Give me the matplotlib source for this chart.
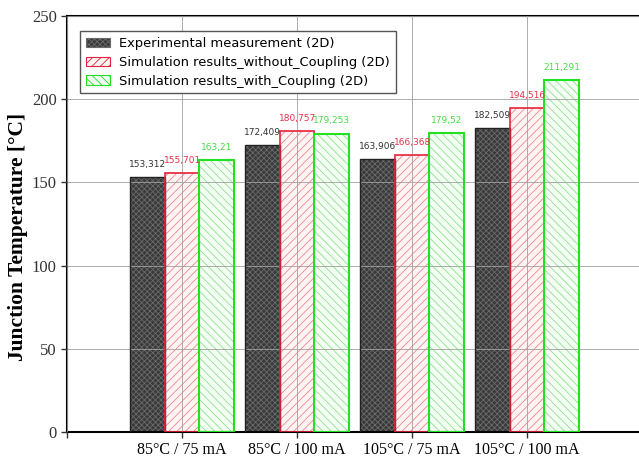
import numpy as np
import matplotlib
matplotlib.use('Agg')
import matplotlib.pyplot as plt
from matplotlib.patches import Patch

categories = ['85°C / 75 mA', '85°C / 100 mA', '105°C / 75 mA', '105°C / 100 mA']
experimental = [153.312, 172.409, 163.906, 182.509]
sim_without = [155.701, 180.757, 166.368, 194.516]
sim_with = [163.21, 179.253, 179.52, 211.291]
exp_labels = ['153,312', '172,409', '163,906', '182,509']
without_labels = ['155,701', '180,757', '166,368', '194,516']
with_labels = ['163,21', '179,253', '179,52', '211,291']

plt.rcParams['hatch.linewidth'] = 0.6

fig = plt.figure(figsize=(6.39, 4.59), dpi=100)
ax = fig.add_axes([0.105, 0.059, 0.9, 0.906])

x = np.arange(1, len(categories) + 1)
w = 0.3

# experimental - dark crosshatch
ax.bar(x - w, experimental, w, color='#3a3a3a', edgecolor='#6a6a6a', hatch='xxxxxx', linewidth=0, zorder=2)
ax.bar(x - w, experimental, w, fill=False, edgecolor='#222222', linewidth=1.0, zorder=3)

# simulation without coupling - red hatch
ax.bar(x, sim_without, w, color='#fff4f4', edgecolor='#f08890', hatch='////', linewidth=0, zorder=2)
ax.bar(x, sim_without, w, fill=False, edgecolor='#e8203a', linewidth=1.2, zorder=3)

# simulation with coupling - green hatch
ax.bar(x + w, sim_with, w, color='#f4fff4', edgecolor='#90e090', hatch='\\\\\\\\', linewidth=0, zorder=2)
ax.bar(x + w, sim_with, w, fill=False, edgecolor='#22e022', linewidth=1.5, zorder=3)

for xs, vals, labs, col in [(x - w, experimental, exp_labels, '#333333'),
                            (x, sim_without, without_labels, '#e8304a'),
                            (x + w, sim_with, with_labels, '#44dd44')]:
    for xi, v, lab in zip(xs, vals, labs):
        ax.annotate(lab, (xi, v), xytext=(0, 6), textcoords='offset points',
                    ha='center', va='bottom', fontsize=6.5, color=col,
                    family='DejaVu Sans')

ax.set_xlim(0, 5)
ax.set_ylim(0, 250)
ax.set_xticks([0, 1, 2, 3, 4])
ax.set_xticklabels([''] + categories, family='Liberation Serif', fontsize=11.5)
ax.set_yticks([0, 50, 100, 150, 200, 250])
ax.set_yticklabels(['0', '50', '100', '150', '200', '250'], family='Liberation Serif',
                   fontsize=12, color='#333333')
ax.tick_params(direction='out', length=4, width=1, colors='#333333')
ax.tick_params(axis='x', labelcolor='black')
ax.set_ylabel('Junction Temperature [°C]', family='Liberation Serif', fontsize=15.5,
              fontweight='bold', va='center')
ax.yaxis.set_label_coords(-0.085, 0.47)

ax.grid(True, color='#a0a0a0', linewidth=0.6, zorder=4)
ax.set_axisbelow(False)
for s in ['left', 'bottom', 'top']:
    ax.spines[s].set_linewidth(1.5)
    ax.spines[s].set_color('black')
ax.spines['right'].set_visible(False)

handles = [
    Patch(facecolor='#3a3a3a', edgecolor='#6a6a6a', hatch='xxxxxx', linewidth=0.8),
    Patch(facecolor='#fff4f4', edgecolor='#e8203a', hatch='////', linewidth=0.8),
    Patch(facecolor='#f4fff4', edgecolor='#22e022', hatch='\\\\\\\\', linewidth=0.8),
]
labels = ['Experimental measurement (2D)',
          'Simulation results_without_Coupling (2D)',
          'Simulation results_with_Coupling (2D)']
leg = ax.legend(handles, labels, loc='upper left', bbox_to_anchor=(0.0226, 0.964),
                borderaxespad=0,
                prop={'family': 'DejaVu Sans', 'size': 9.35}, fancybox=False,
                edgecolor='#555555', framealpha=1, borderpad=0.45,
                labelspacing=0.45, handlelength=1.85, handleheight=0.7, handletextpad=0.7)
leg.set_zorder(10)
leg.get_frame().set_linewidth(1.0)

fig.savefig('out.png', dpi=100)
